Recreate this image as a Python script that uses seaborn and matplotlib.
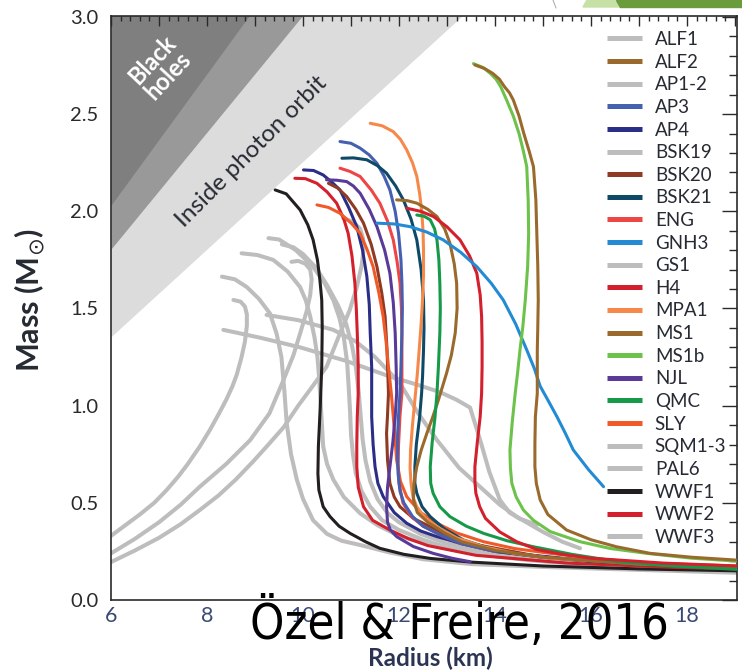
import numpy as np
import pandas as pd
import matplotlib
matplotlib.use("Agg")
import matplotlib.pyplot as plt
from matplotlib.patches import Polygon
from matplotlib.lines import Line2D
from matplotlib.ticker import MultipleLocator, FormatStrFormatter
import seaborn as sns

# ---------------- data (radius km, mass Msun) ----------------
alf1_r = [8.72, 9.05, 9.38, 9.68, 9.94, 10.06, 10.15, 10.24, 10.3, 10.34, 10.38, 10.42, 10.5, 10.63, 10.85, 11.19, 11.55, 12.0, 12.7, 13.5, 14.7, 16.0, 17.5, 19.05]
alf1_m = [1.784, 1.775, 1.75, 1.69, 1.61, 1.54, 1.458, 1.35, 1.25, 1.13, 0.96, 0.79, 0.70, 0.62, 0.53, 0.446, 0.385, 0.33, 0.28, 0.24, 0.205, 0.18, 0.162, 0.15]

alf2_r = [11.95, 12.17, 12.37, 12.60, 12.79, 12.95, 13.06, 13.15, 13.20, 13.21, 13.17, 13.09, 12.99, 12.82, 12.70, 12.58, 12.46, 12.37, 12.31, 12.30, 12.38, 12.6, 12.95, 13.3, 14.0, 15.0, 17.0, 19.05]
alf2_m = [2.059, 2.055, 2.042, 2.01, 1.973, 1.91, 1.836, 1.73, 1.63, 1.50, 1.373, 1.26, 1.167, 1.029, 0.94, 0.858, 0.77, 0.686, 0.60, 0.515, 0.45, 0.40, 0.345, 0.30, 0.255, 0.22, 0.185, 0.17]

ap12_r = [8.31, 8.58, 8.83, 9.08, 9.31, 9.45, 9.55, 9.61, 9.66, 9.75, 9.87, 10.0, 10.21, 10.5, 10.8, 11.19, 11.8, 12.5, 13.5, 15.0, 17.0, 19.05]
ap12_m = [1.664, 1.65, 1.61, 1.55, 1.475, 1.37, 1.25, 1.08, 0.91, 0.75, 0.62, 0.52, 0.41, 0.34, 0.305, 0.283, 0.245, 0.21, 0.185, 0.17, 0.155, 0.14]

ap3_r = [10.77, 11.0, 11.19, 11.38, 11.54, 11.69, 11.81, 11.92, 11.99, 12.04, 12.06, 12.07, 12.06, 12.04, 12.02, 11.99, 11.97, 11.97, 11.98, 12.02, 12.1, 12.28, 12.5, 12.9, 13.3, 14.0, 15.0, 17.0, 19.05]
ap3_m = [2.359, 2.35, 2.325, 2.29, 2.247, 2.18, 2.11, 2.00, 1.887, 1.75, 1.63, 1.50, 1.373, 1.20, 1.064, 0.95, 0.85, 0.75, 0.65, 0.56, 0.50, 0.43, 0.38, 0.33, 0.29, 0.25, 0.22, 0.185, 0.168]

ap4_r = [10.01, 10.22, 10.42, 10.60, 10.77, 10.95, 11.12, 11.24, 11.33, 11.38, 11.40, 11.43, 11.43, 11.43, 11.46, 11.5, 11.56, 11.67, 11.9, 12.16, 12.45, 12.79, 13.3, 14.0, 16.0, 19.05]
ap4_m = [2.213, 2.21, 2.187, 2.15, 2.11, 2.02, 1.921, 1.80, 1.664, 1.52, 1.373, 1.20, 1.064, 0.943, 0.80, 0.686, 0.60, 0.532, 0.45, 0.395, 0.355, 0.326, 0.29, 0.25, 0.20, 0.16]

bsk19_r = [9.28, 9.5, 9.85, 10.21, 10.45, 10.63, 10.76, 10.85, 10.92, 10.95, 10.98, 11.0, 11.04, 11.1, 11.22, 11.4, 11.65, 12.0, 12.5, 13.0, 14.0, 15.0, 17.0, 19.05]
bsk19_m = [1.862, 1.855, 1.80, 1.715, 1.63, 1.544, 1.45, 1.35, 1.22, 1.10, 0.97, 0.85, 0.75, 0.65, 0.56, 0.48, 0.41, 0.36, 0.31, 0.27, 0.23, 0.20, 0.17, 0.155]

bsk20_r = [10.53, 10.72, 10.91, 11.10, 11.26, 11.42, 11.54, 11.64, 11.71, 11.75, 11.78, 11.76, 11.74, 11.76, 11.81, 11.90, 12.02, 12.3, 12.65, 13.0, 13.5, 15.0, 17.0, 19.05]
bsk20_m = [2.144, 2.12, 2.076, 2.01, 1.939, 1.83, 1.715, 1.58, 1.458, 1.287, 1.064, 0.95, 0.858, 0.72, 0.60, 0.53, 0.48, 0.42, 0.377, 0.33, 0.29, 0.22, 0.18, 0.16]

bsk21_r = [10.81, 11.05, 11.33, 11.55, 11.74, 11.93, 12.09, 12.25, 12.37, 12.46, 12.51, 12.52, 12.51, 12.49, 12.47, 12.43, 12.36, 12.33, 12.33, 12.37, 12.48, 12.65, 12.95, 13.34, 14.1, 15.0, 16.0, 19.05]
bsk21_m = [2.273, 2.275, 2.265, 2.235, 2.196, 2.13, 2.059, 1.96, 1.853, 1.70, 1.544, 1.40, 1.287, 1.15, 1.064, 0.943, 0.80, 0.686, 0.60, 0.549, 0.48, 0.429, 0.365, 0.309, 0.249, 0.22, 0.20, 0.165]

eng_r = [10.77, 10.98, 11.19, 11.42, 11.60, 11.76, 11.88, 11.96, 12.02, 12.05, 12.06, 12.06, 12.06, 12.02, 11.99, 11.98, 12.0, 12.08, 12.25, 12.5, 12.9, 13.3, 14.0, 15.0, 17.0, 19.05]
eng_m = [2.222, 2.205, 2.179, 2.11, 2.042, 1.95, 1.853, 1.74, 1.63, 1.50, 1.373, 1.20, 1.064, 0.95, 0.80, 0.70, 0.60, 0.50, 0.43, 0.38, 0.33, 0.29, 0.25, 0.22, 0.185, 0.17]

gnh3_r = [11.54, 11.9, 12.23, 12.58, 12.92, 13.28, 13.62, 13.92, 14.17, 14.43, 14.66, 14.82, 14.94, 15.12, 15.29, 15.46, 15.63, 15.95, 16.26]
gnh3_m = [1.939, 1.935, 1.921, 1.893, 1.853, 1.79, 1.715, 1.63, 1.544, 1.42, 1.287, 1.19, 1.10, 1.02, 0.943, 0.86, 0.772, 0.67, 0.583]

gs1_r = [9.24, 9.9, 10.63, 11.1, 11.5, 12.02, 12.4, 12.79, 13.25, 13.76, 14.1, 14.45, 15.0, 15.4, 15.77]
gs1_m = [1.467, 1.44, 1.39, 1.33, 1.25, 1.115, 0.96, 0.823, 0.68, 0.566, 0.49, 0.429, 0.35, 0.30, 0.266]

h4_r = [9.83, 10.05, 10.29, 10.50, 10.70, 10.85, 10.94, 11.02, 11.08, 11.11, 11.13, 11.15, 11.15, 11.13, 11.12, 11.12, 11.15, 11.26, 11.45, 11.81, 12.2, 12.6, 13.6, 15.5, 17.5, 19.05]
h4_m = [2.17, 2.168, 2.144, 2.10, 2.042, 1.96, 1.887, 1.77, 1.63, 1.50, 1.373, 1.20, 1.064, 0.943, 0.80, 0.686, 0.58, 0.48, 0.41, 0.36, 0.315, 0.28, 0.23, 0.19, 0.17, 0.16]

mpa1_r = [11.40, 11.65, 11.88, 12.03, 12.16, 12.28, 12.37, 12.43, 12.47, 12.50, 12.51, 12.51, 12.49, 12.46, 12.42, 12.38, 12.33, 12.28, 12.24, 12.23, 12.25, 12.29, 12.37, 12.55, 12.79, 13.2, 13.76, 14.4, 15.15, 17.2, 19.05]
mpa1_m = [2.453, 2.44, 2.41, 2.37, 2.316, 2.25, 2.18, 2.09, 2.007, 1.90, 1.80, 1.67, 1.544, 1.42, 1.287, 1.16, 1.03, 0.90, 0.772, 0.68, 0.60, 0.53, 0.48, 0.42, 0.377, 0.32, 0.274, 0.24, 0.215, 0.185, 0.17]

ms1_r = [13.58, 13.78, 13.95, 14.09, 14.2, 14.30, 14.38, 14.50, 14.6, 14.71, 14.80, 14.85, 14.87, 14.89, 14.90, 14.89, 14.88, 14.88, 14.84, 14.83, 14.83, 14.86, 14.94, 15.1, 15.49, 16.0, 16.53, 17.23, 18.1, 19.05]
ms1_m = [2.753, 2.735, 2.71, 2.68, 2.64, 2.61, 2.573, 2.49, 2.40, 2.31, 2.23, 2.06, 1.887, 1.72, 1.544, 1.40, 1.287, 1.064, 0.943, 0.80, 0.686, 0.60, 0.515, 0.44, 0.36, 0.31, 0.274, 0.24, 0.22, 0.205]

ms1b_r = [13.55, 13.75, 13.9, 14.02, 14.12, 14.24, 14.38, 14.5, 14.59, 14.66, 14.69, 14.70, 14.68, 14.63, 14.58, 14.52, 14.47, 14.42, 14.36, 14.31, 14.32, 14.35, 14.44, 14.59, 14.8, 15.15, 15.77, 16.4, 17.16, 18.1, 19.05]
ms1b_m = [2.76, 2.74, 2.71, 2.68, 2.64, 2.573, 2.49, 2.40, 2.31, 2.23, 2.06, 1.887, 1.72, 1.544, 1.41, 1.287, 1.17, 1.064, 0.92, 0.772, 0.68, 0.60, 0.53, 0.463, 0.41, 0.352, 0.30, 0.265, 0.24, 0.215, 0.20]

njl_r = [10.49, 10.7, 10.91, 11.05, 11.19, 11.38, 11.54, 11.70, 11.81, 11.88, 11.92, 11.94, 11.95, 11.92, 11.87, 11.81, 11.76, 11.74, 11.76, 11.82, 11.95, 12.3, 12.71, 13.1, 13.48]
njl_m = [2.162, 2.16, 2.153, 2.13, 2.093, 2.01, 1.921, 1.80, 1.681, 1.53, 1.373, 1.20, 1.064, 0.943, 0.81, 0.686, 0.58, 0.48, 0.40, 0.36, 0.326, 0.275, 0.24, 0.215, 0.197]

qmc_r = [12.37, 12.52, 12.65, 12.74, 12.79, 12.83, 12.85, 12.86, 12.85, 12.82, 12.79, 12.75, 12.69, 12.65, 12.66, 12.71, 12.85, 13.06, 13.4, 13.76, 14.25, 14.8, 15.6, 16.5, 17.7, 19.05]
qmc_m = [1.981, 1.975, 1.956, 1.91, 1.853, 1.75, 1.63, 1.50, 1.373, 1.20, 1.064, 0.943, 0.81, 0.686, 0.60, 0.549, 0.48, 0.429, 0.38, 0.343, 0.305, 0.274, 0.235, 0.20, 0.175, 0.158]

sly_r = [10.29, 10.53, 10.77, 11.0, 11.19, 11.34, 11.46, 11.58, 11.67, 11.73, 11.78, 11.84, 11.88, 11.92, 11.95, 12.03, 12.16, 12.45, 12.79, 13.2, 13.76, 14.4, 15.15, 16.2, 17.23, 19.05]
sly_m = [2.033, 2.02, 1.99, 1.94, 1.887, 1.80, 1.715, 1.58, 1.458, 1.33, 1.20, 1.06, 0.943, 0.82, 0.72, 0.61, 0.532, 0.45, 0.395, 0.345, 0.30, 0.265, 0.24, 0.21, 0.189, 0.175]

sqm1_r = [6.0, 6.3, 6.6, 6.9, 7.16, 7.4, 7.6, 7.85, 8.06, 8.25, 8.4, 8.53, 8.62, 8.72, 8.79, 8.83, 8.83, 8.79, 8.7, 8.55]
sqm1_m = [0.33, 0.385, 0.44, 0.50, 0.566, 0.635, 0.70, 0.79, 0.875, 0.96, 1.03, 1.10, 1.16, 1.25, 1.33, 1.41, 1.47, 1.51, 1.535, 1.544]
sqm2_r = [6.0, 6.5, 7.0, 7.45, 7.85, 8.4, 8.90, 9.3, 9.59, 9.8, 9.95, 10.08, 10.15, 10.18, 10.15, 10.05, 9.9, 9.76]
sqm2_m = [0.24, 0.315, 0.40, 0.49, 0.583, 0.70, 0.823, 0.96, 1.13, 1.26, 1.38, 1.49, 1.57, 1.65, 1.70, 1.73, 1.745, 1.74]
sqm3_r = [6.0, 6.5, 7.0, 7.45, 7.85, 8.25, 8.6, 8.95, 9.24, 9.6, 9.9, 10.2, 10.49, 10.77, 10.97, 11.12, 11.22, 11.26, 11.25, 11.19, 11.05, 10.84]
sqm3_m = [0.195, 0.255, 0.32, 0.39, 0.463, 0.54, 0.62, 0.71, 0.789, 0.89, 1.0, 1.10, 1.20, 1.372, 1.49, 1.61, 1.72, 1.80, 1.86, 1.91, 1.945, 1.965]

pal6_r = [8.34, 9.1, 9.94, 10.9, 11.81, 12.35, 12.85, 13.2, 13.48, 13.58, 13.69, 13.88, 14.1, 14.3, 14.5, 14.87]
pal6_m = [1.39, 1.35, 1.30, 1.23, 1.15, 1.11, 1.07, 1.03, 0.99, 0.91, 0.823, 0.66, 0.515, 0.45, 0.42, 0.386]

wwf1_r = [9.42, 9.65, 9.94, 10.10, 10.21, 10.30, 10.35, 10.39, 10.40, 10.39, 10.36, 10.32, 10.31, 10.33, 10.42, 10.56, 10.75, 10.98, 11.3, 11.6, 12.1, 12.65, 13.5, 15.0, 17.0, 19.05]
wwf1_m = [2.11, 2.09, 2.007, 1.93, 1.853, 1.75, 1.65, 1.544, 1.40, 1.20, 1.0, 0.79, 0.65, 0.566, 0.48, 0.43, 0.38, 0.343, 0.30, 0.266, 0.235, 0.214, 0.195, 0.175, 0.16, 0.15]

wwf2_r = [12.16, 12.45, 12.72, 13.0, 13.27, 13.47, 13.62, 13.69, 13.72, 13.73, 13.73, 13.72, 13.69, 13.63, 13.58, 13.58, 13.6, 13.68, 13.80, 14.1, 14.45, 14.87, 15.4, 16.0, 17.5, 19.05]
wwf2_m = [2.016, 2.0, 1.973, 1.92, 1.853, 1.77, 1.681, 1.57, 1.458, 1.33, 1.20, 1.064, 0.943, 0.81, 0.686, 0.61, 0.55, 0.48, 0.42, 0.35, 0.30, 0.26, 0.235, 0.215, 0.19, 0.175]

wwf3_r = [9.56, 9.8, 10.0, 10.27, 10.5, 10.72, 10.9, 11.02, 11.1, 11.16, 11.2, 11.24, 11.3, 11.4, 11.55, 11.75, 12.0, 12.45, 13.0, 14.0, 15.0, 17.0, 19.05]
wwf3_m = [1.83, 1.815, 1.78, 1.71, 1.62, 1.52, 1.42, 1.31, 1.20, 1.07, 0.95, 0.83, 0.72, 0.61, 0.52, 0.45, 0.40, 0.34, 0.29, 0.245, 0.21, 0.18, 0.16]

legend_names = ["ALF1", "ALF2", "AP1-2", "AP3", "AP4", "BSK19", "BSK20", "BSK21", "ENG",
                "GNH3", "GS1", "H4", "MPA1", "MS1", "MS1b", "NJL", "QMC", "SLY",
                "SQM1-3", "PAL6", "WWF1", "WWF2", "WWF3"]

GRAY = "#bdbdbd"
colors = {"ALF1": GRAY, "ALF2": "#9a6a2c", "AP1-2": GRAY, "AP3": "#4560b0", "AP4": "#2b2e86",
          "BSK19": GRAY, "BSK20": "#8e3a24", "BSK21": "#0e4a68", "ENG": "#ee4545",
          "GNH3": "#238ad4", "GS1": GRAY, "H4": "#d3202c", "MPA1": "#f6894a", "MS1": "#9a6a2c",
          "MS1b": "#6cc24a", "NJL": "#5a3a98", "QMC": "#17994a", "SLY": "#f05a28",
          "SQM1-3": GRAY, "PAL6": GRAY, "WWF1": "#231f20", "WWF2": "#d3202c", "WWF3": GRAY}

curves = [
    ("ALF1", alf1_r, alf1_m), ("AP1-2", ap12_r, ap12_m), ("BSK19", bsk19_r, bsk19_m),
    ("GS1", gs1_r, gs1_m), ("PAL6", pal6_r, pal6_m), ("WWF3", wwf3_r, wwf3_m),
    ("SQM1-3", sqm1_r, sqm1_m), ("SQM1-3", sqm2_r, sqm2_m), ("SQM1-3", sqm3_r, sqm3_m),
    ("WWF1", wwf1_r, wwf1_m), ("H4", h4_r, h4_m), ("AP4", ap4_r, ap4_m),
    ("BSK20", bsk20_r, bsk20_m), ("SLY", sly_r, sly_m), ("NJL", njl_r, njl_m),
    ("ENG", eng_r, eng_m), ("AP3", ap3_r, ap3_m), ("BSK21", bsk21_r, bsk21_m),
    ("MPA1", mpa1_r, mpa1_m), ("ALF2", alf2_r, alf2_m), ("QMC", qmc_r, qmc_m),
    ("WWF2", wwf2_r, wwf2_m), ("GNH3", gnh3_r, gnh3_m), ("MS1b", ms1b_r, ms1b_m),
    ("MS1", ms1_r, ms1_m),
]

# GR limits, radius in units of GM/c^2 (km per solar mass)
GM_C2 = 1.4766
bh_factor, buchdahl_factor, photon_factor = 2.0, 2.25, 3.0

x_labeled = [6, 8, 10, 12, 14, 16, 18]

# ---------------- plotting ----------------
sns.set_style("white")
plt.rcParams["font.family"] = ["Lato", "DejaVu Sans"]
plt.rcParams["mathtext.fontset"] = "dejavusans"

W, H = 742, 672
fig = plt.figure(figsize=(W / 100, H / 100), dpi=100)
ax = fig.add_axes([111 / W, (H - 600) / H, (737 - 111) / W, (600 - 16) / H])
ax.set_xlim(6, 19.04)
ax.set_ylim(0, 3.005)

rg = np.linspace(6, 19.04, 300)
for fac, col in [(photon_factor, "#dcdcdc"), (buchdahl_factor, "#999999"), (bh_factor, "#7f7f7f")]:
    lim = rg / (fac * GM_C2)
    ax.fill_between(rg, lim, 3.1, where=lim < 3.1, color=col, lw=0, zorder=0)

ax.text(7.02, 2.74, "Black\nholes", rotation=47, color="white", fontsize=17,
        fontweight="bold", ha="center", va="center", multialignment="center",
        linespacing=0.95, zorder=1)
ax.text(8.92, 2.305, "Inside photon orbit", rotation=45, color="#262a33", fontsize=17.5,
        ha="center", va="center", zorder=1)

handles = {}
for name, r, m in curves:
    col = colors[name]
    is_gray = col == GRAY
    df = pd.DataFrame({"R": r, "M": m})
    sns.lineplot(data=df, x="R", y="M", sort=False, estimator=None, color=col,
                 lw=2.9 if is_gray else 2.2, ax=ax, zorder=2 if is_gray else 3,
                 legend=False)
    ln = ax.lines[-1]
    ln.set_solid_joinstyle("round")
    if name not in handles:
        handles[name] = ln

ax.set_xlabel("")
ax.set_ylabel("")

# ticks
ax.xaxis.set_major_locator(MultipleLocator(1))
ax.xaxis.set_minor_locator(MultipleLocator(0.2))
ax.set_xticklabels([str(int(round(t))) if int(round(t)) in x_labeled else "" for t in ax.get_xticks()])
ax.yaxis.set_major_locator(MultipleLocator(0.5))
ax.yaxis.set_minor_locator(MultipleLocator(0.1))
ax.yaxis.set_major_formatter(FormatStrFormatter("%.1f"))
ax.tick_params(axis="both", which="both", direction="in", top=True, right=True,
               color="#2a2a2a", width=1.0)
ax.tick_params(axis="x", which="major", length=7.5, labelsize=15.5, pad=4, labelcolor="#3a4a74")
ax.tick_params(axis="x", which="minor", length=3.8)
ax.tick_params(axis="y", which="major", length=11, labelsize=14.5, pad=9, labelcolor="#2a2a2a")
ax.tick_params(axis="y", which="minor", length=5.8)
for s in ax.spines.values():
    s.set_color("#2a2a2a")
    s.set_linewidth(1.2)

proxies = [Line2D([], [], color=colors[n], lw=3.6, solid_capstyle="butt") for n in legend_names]
leg = ax.legend(proxies, legend_names, loc="upper left",
                bbox_to_anchor=(607 / W, 1 - 31 / H), bbox_transform=fig.transFigure,
                frameon=False, fontsize=13.5, handlelength=1.85, handletextpad=0.7,
                labelspacing=0.30, borderpad=0, borderaxespad=0)
for t in leg.get_texts():
    t.set_color("#262a33")

fig.text(30 / W, 1 - 300 / H, r"Mass (M$_{\odot}$)", rotation=90, ha="center", va="center",
         fontsize=22, fontweight="bold", color="#262a33")
fig.text(430 / W, 1 - 658 / H, "Radius (km)", ha="center", va="center",
         fontsize=17.5, fontweight="bold", color="#2b3553")

fig.text(459 / W, 1 - 623 / H, "Özel & Freire, 2016", ha="center", va="center",
         fontsize=35, family="DejaVu Sans", fontstretch="condensed", color="black")

# slide decoration at top right
fig.patches.append(Polygon([[587 / W, 1], [616 / W, 1], [620 / W, 1 - 7 / H], [583 / W, 1 - 7 / H]],
                           closed=True, transform=fig.transFigure, color="#c7e0a6", zorder=0))
fig.patches.append(Polygon([[616 / W, 1], [1, 1], [1, 1 - 7 / H], [620 / W, 1 - 7 / H]],
                           closed=True, transform=fig.transFigure, color="#6a9c3c", zorder=0))
fig.lines.append(Line2D([553 / W, 556 / W], [1, 1 - 8 / H], transform=fig.transFigure,
                        color="#b0b0b0", lw=0.8))

fig.savefig("out.png", dpi=100)
